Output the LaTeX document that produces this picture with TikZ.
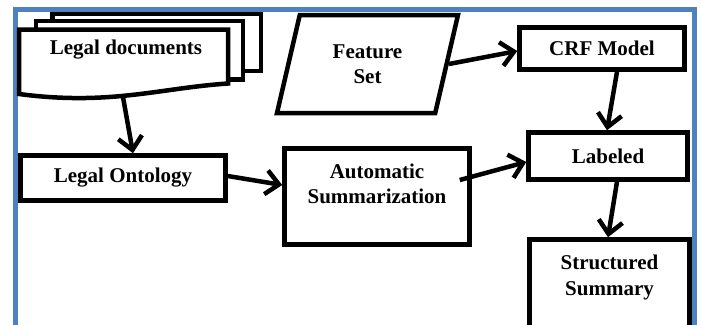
\documentclass[tikz,border=0pt]{standalone}
\usepackage{fontspec}
\setmainfont{Liberation Serif}
\usepackage{xcolor}
\usepackage{tikz}
\usetikzlibrary{positioning,calc,shapes.geometric,arrows.meta}

\definecolor{frameblue}{HTML}{4F81BD}

\begin{document}
\begin{tikzpicture}[x=1pt, y=-1pt]
				\tikzset{
					box/.style={rectangle, draw=black, line width=4.5pt, fill=white, align=center, inner sep=0pt,
						font=\fontsize{21}{25.5}\selectfont\bfseries},
					sheet/.style={draw=black, line width=4.5pt, fill=white, line join=miter},
					flow/.style={draw=black, line width=4.5pt, -{Straight Barb[length=13pt, width=24pt]}}
				}
				\useasboundingbox (0,0) rectangle (701,324);
				
				% Outer frame
				\draw[frameblue, line width=5pt] (15.5,9.5) rectangle (694,345);
				
				% Stack of documents
				\draw[sheet] (52.5,14) rectangle (261,71);
				\draw[sheet] (36,21) rectangle (243,79.5);
				\draw[sheet] (19,29.5) -- (228,29.5) -- (228,83.5)
					.. controls (160,88) and (110,106) .. (19,94) -- cycle;
				\node[font=\fontsize{21}{25.5}\selectfont\bfseries] (docs) at (126,50) {Legal documents};
				\coordinate (docbot) at (123,97);
				
				% Left column
				\node[box, minimum width=205pt, minimum height=45pt] (onto) at (123,178) {Legal Ontology};
				\node[box, minimum width=185pt, minimum height=96pt] (summ) at (377,196.5) {Automatic\\Summarization\\\mbox{}};
				
				% Feature set
				\node[box, trapezium, trapezium left angle=73.5, trapezium right angle=106.5, trapezium stretches=true,
					minimum width=182pt, minimum height=98pt] (feat) at (367.5,64) {Feature\\Set};
				
				% Right column
				\node[box, minimum width=165pt, minimum height=42pt] (crf) at (602,48.5) {CRF Model};
				\node[box, minimum width=159pt, minimum height=47pt] (lab) at (608,156) {Labeled};
				\node[box, minimum width=160pt, minimum height=97pt] (summary) at (609.5,288) {Structured\\Summary\\\mbox{}};
				
				\draw[flow] (docbot) -- ([xshift=10pt]onto.north);
				\draw[flow] ([yshift=2pt]onto.east) -- ([yshift=11.5pt]summ.west);
				\draw[flow] ([xshift=-12pt, yshift=16.5pt]summ.east) -- ([yshift=-6pt]lab.west);
				\draw[flow] (feat.east) -- ([yshift=-2.5pt]crf.west);
				\draw[flow] ([xshift=15pt]crf.south) -- ([xshift=-1pt]lab.north);
				\draw[flow] ([xshift=9pt]lab.south) -- ([xshift=-1.5pt]summary.north);
			\end{tikzpicture}
\end{document}
